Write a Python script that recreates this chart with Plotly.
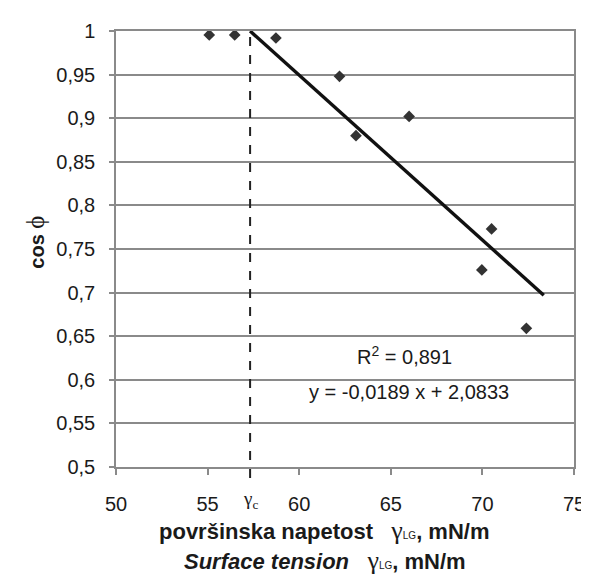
import plotly.graph_objects as go

# ---- data ----
surface_tension = [55.09, 56.48, 58.73, 62.2, 63.1, 66.0, 69.97, 70.5, 72.4]
cos_phi = [0.9955, 0.9955, 0.992, 0.948, 0.88, 0.902, 0.726, 0.773, 0.659]

slope = -0.0189
intercept = 2.0833
trend_x = [57.32, 73.35]
trend_y = [slope * x + intercept for x in trend_x]
gamma_c = 57.32

y_tickvals = [0.5, 0.55, 0.6, 0.65, 0.7, 0.75, 0.8, 0.85, 0.9, 0.95, 1.0]
y_ticktext = ["0,5", "0,55", "0,6", "0,65", "0,7", "0,75", "0,8", "0,85", "0,9", "0,95", "1"]
x_tickvals = [50, 55, 60, 65, 70, 75]
x_ticktext = ["50", "55", "60", "65", "70", "75"]

FONT = "Liberation Sans, Arial, sans-serif"
SERIF = "Liberation Serif, Times New Roman, serif"
TXT = "#1a1a1a"
GRID = "#8a8a8a"

fig = go.Figure()

fig.add_trace(go.Scatter(
    x=trend_x, y=trend_y, mode="lines",
    line=dict(color="#111111", width=3.4),
    hoverinfo="skip", showlegend=False, cliponaxis=False,
))
fig.add_trace(go.Scatter(
    x=surface_tension, y=cos_phi, mode="markers",
    marker=dict(symbol="diamond", size=9, color="#333333"),
    showlegend=False, cliponaxis=False,
))

# dashed vertical line at gamma_c
fig.add_shape(type="line", xref="x", yref="paper",
              x0=gamma_c, x1=gamma_c, y0=-0.025, y1=1.007,
              line=dict(color="#222222", width=2, dash="dash"), layer="above")

fig.update_layout(
    width=589, height=574,
    margin=dict(l=108, r=14, t=19, b=115),
    paper_bgcolor="white", plot_bgcolor="white",
    font=dict(family=FONT, size=20, color=TXT),
    showlegend=False,
    xaxis=dict(
        range=[50, 75], tickvals=x_tickvals, ticktext=x_ticktext,
        showgrid=False, zeroline=False,
        showline=True, linecolor=GRID, linewidth=1.5, mirror=True,
        ticks="outside", ticklen=6, tickcolor=GRID, tickwidth=1.5,
        ticklabelstandoff=12,
        tickfont=dict(family=FONT, size=20, color=TXT),
    ),
    yaxis=dict(
        range=[0.5, 1.0], tickvals=y_tickvals, ticktext=y_ticktext,
        showgrid=True, gridcolor=GRID, gridwidth=1.5, zeroline=False,
        showline=True, linecolor=GRID, linewidth=1.5, mirror=True,
        ticks="outside", ticklen=5, tickcolor=GRID, tickwidth=1.5,
        ticklabelstandoff=10,
        tickfont=dict(family=FONT, size=20, color=TXT),
    ),
)

# gamma_c label under the axis
fig.add_annotation(x=gamma_c, y=-0.075, xref="x", yref="paper",
                   text="γ<sub>c</sub>", showarrow=False,
                   font=dict(family=SERIF, size=19, color=TXT),
                   xanchor="center", yanchor="middle")

# regression text
fig.add_annotation(x=65.74, y=0.6273, xref="x", yref="y",
                   text="R<sup>2</sup> = 0,891", showarrow=False,
                   font=dict(family=FONT, size=20, color=TXT))
fig.add_annotation(x=66.0, y=0.5864, xref="x", yref="y",
                   text="y = -0,0189 x + 2,0833", showarrow=False,
                   font=dict(family=FONT, size=20, color=TXT))

gamma_lg = ("<span style=\"font-family:'Liberation Serif';font-weight:normal;font-size:26px\">γ</span>"
            "<span style=\"font-size:10px\">LG</span>")

title_cx = (321 - 108) / 467
fig.add_annotation(x=title_cx, y=(459 - 523) / 440, xref="paper", yref="paper",
                   text="<b>površinska napetost   </b>" + gamma_lg + "<b>, mN/m</b>",
                   showarrow=False, xanchor="center", yanchor="middle",
                   font=dict(family=FONT, size=22, color=TXT))
fig.add_annotation(x=title_cx, y=(459 - 553) / 440, xref="paper", yref="paper",
                   text="<b><i>Surface tension</i>   </b>" + gamma_lg + "<b>, mN/m</b>",
                   showarrow=False, xanchor="center", yanchor="middle",
                   font=dict(family=FONT, size=22, color=TXT))

# y-axis title
fig.add_annotation(x=(25 - 108) / 467, y=(459 - 232) / 440, xref="paper", yref="paper",
                   text="<b>cos </b><span style=\"font-family:'Liberation Serif';font-size:25px\">ϕ</span>",
                   showarrow=False, textangle=-90, xanchor="center", yanchor="middle",
                   font=dict(family=FONT, size=20, color=TXT))

fig.write_html("out.html")
